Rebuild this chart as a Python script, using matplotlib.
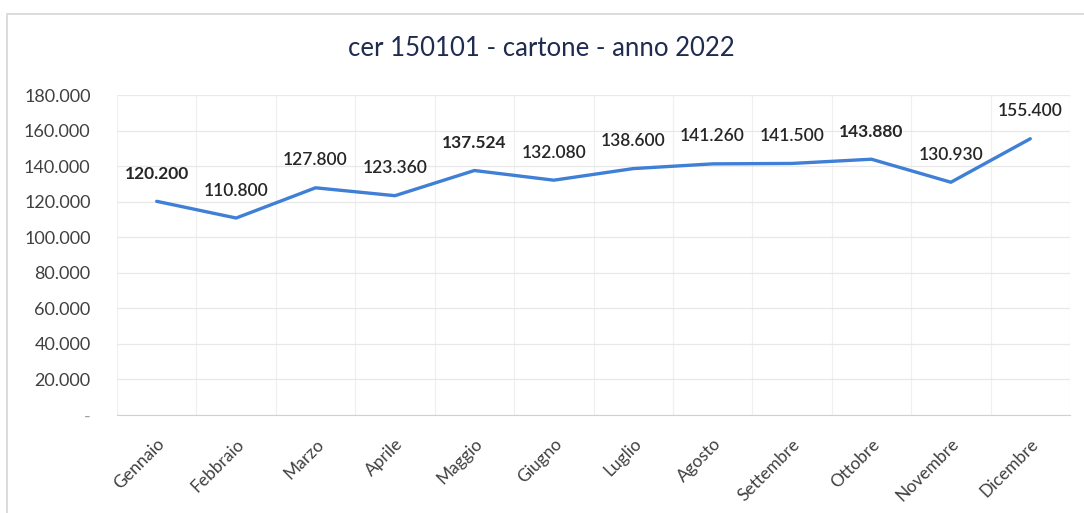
import matplotlib
matplotlib.use("Agg")
import matplotlib.pyplot as plt
from matplotlib.patches import Rectangle
from matplotlib.ticker import FuncFormatter, FixedLocator

months = ["Gennaio", "Febbraio", "Marzo", "Aprile", "Maggio", "Giugno",
          "Luglio", "Agosto", "Settembre", "Ottobre", "Novembre", "Dicembre"]
values = [120200, 110800, 127800, 123360, 137524, 132080,
          138600, 141260, 141500, 143880, 130930, 155400]
bold_labels = ["Gennaio", "Maggio", "Ottobre"]
title = "cer 150101 - cartone - anno 2022"

plt.rcParams['font.family'] = ['Lato', 'DejaVu Sans']

fig = plt.figure(figsize=(10.84, 5.13), dpi=100)
ax = fig.add_axes([117/1084, 1 - 415/513, (1070-117)/1084, (415-95)/513])

x = list(range(len(months)))
ax.plot(x, values, color="#3f7fd6", lw=2.4, solid_capstyle="round", zorder=3)

for xi, v, m in zip(x, values, months):
    ax.annotate(f"{v:,.0f}".replace(",", "."), (xi, v), xytext=(0, 14),
                textcoords="offset points", ha="center", va="bottom",
                fontsize=12.5, color="#262626",
                fontweight="bold" if m in bold_labels else "semibold")

ax.set_xlim(-0.5, len(months) - 0.5)
ax.set_ylim(0, 180000)
ax.set_yticks(range(0, 180001, 20000))
ax.yaxis.set_major_formatter(FuncFormatter(lambda v, p: "-" if v == 0 else f"{v:,.0f}".replace(",", ".")))
ax.set_xticks(x)
ax.set_xticklabels(months, rotation=45, ha="right", va="top", rotation_mode="anchor")
ax.xaxis.set_minor_locator(FixedLocator([i + 0.5 for i in range(-1, len(months))]))
ax.tick_params(axis="both", which="both", length=0)
ax.tick_params(axis="y", labelsize=13, labelcolor="#404040", pad=19)
ax.tick_params(axis="x", labelsize=12.5, labelcolor="#404040", pad=15)
ax.get_yticklabels()[0].set_color("#a0a0a0")

ax.grid(axis="y", which="major", color="#e8e8e8", lw=0.9)
ax.grid(axis="x", which="minor", color="#f0f0f0", lw=0.9)
for s in ["top", "right", "left"]:
    ax.spines[s].set_visible(False)
ax.spines["bottom"].set_color("#d0d0d0")
ax.set_axisbelow(True)

fig.text(541/1084, 1 - 48/513, title, ha="center", va="center",
         fontsize=18.5, color="#1f2b4f")

fig.patches.append(Rectangle((7/1084, -0.01), 1.1, 1 - 14/513 + 0.01,
                             transform=fig.transFigure, fill=False,
                             edgecolor="#d6d6d6", lw=1.2))

fig.savefig("out.png", dpi=100)
